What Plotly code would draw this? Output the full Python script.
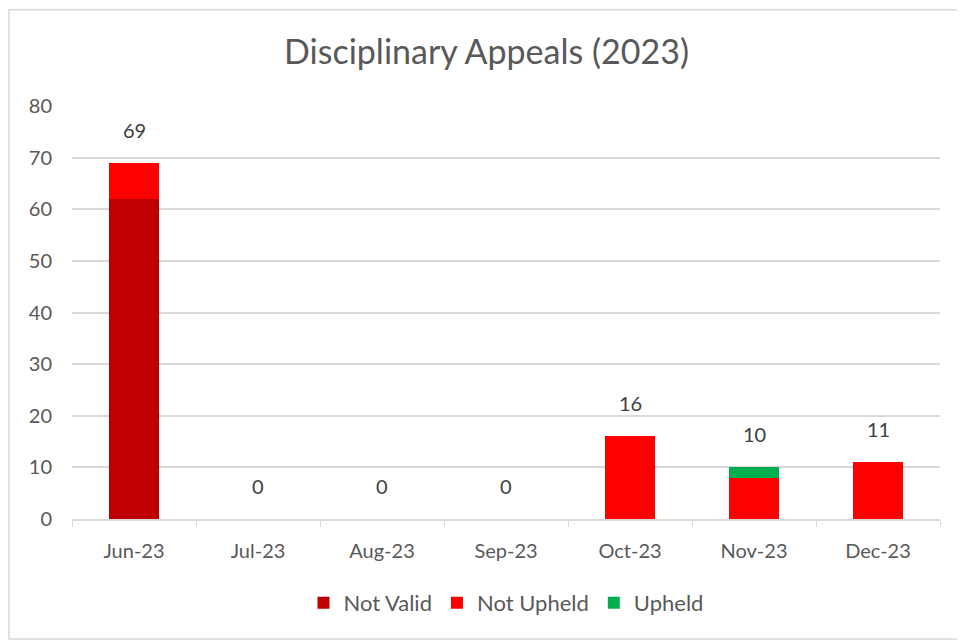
import plotly.graph_objects as go

months = ["Jun-23", "Jul-23", "Aug-23", "Sep-23", "Oct-23", "Nov-23", "Dec-23"]
not_valid = [62, 0, 0, 0, 0, 0, 0]
not_upheld = [7, 0, 0, 0, 16, 8, 11]
upheld = [0, 0, 0, 0, 0, 2, 0]
totals = [a + b + c for a, b, c in zip(not_valid, not_upheld, upheld)]

FONT = "Lato"
GREY = "#595959"

fig = go.Figure()
fig.add_bar(x=months, y=not_valid, name="Not Valid", marker=dict(color="#C00000", line=dict(width=0)))
fig.add_bar(x=months, y=not_upheld, name="Not Upheld", marker=dict(color="#FF0000", line=dict(width=0)))
fig.add_bar(x=months, y=upheld, name="Upheld", marker=dict(color="#00B050", line=dict(width=0)))

for m, t in zip(months, totals):
    fig.add_annotation(x=m, y=t, text=str(t), showarrow=False, yshift=33,
                       yanchor="middle", font=dict(family=FONT, size=20, color="#404040"))

fig.add_shape(type="rect", xref="paper", yref="paper", x0=-0.0726, x1=1.025, y0=-0.2906, y1=1.233,
              line=dict(color="#d9d9d9", width=1.5), fillcolor="rgba(0,0,0,0)", layer="below")

fig.update_layout(
    width=957, height=634,
    margin=dict(l=64, r=25, t=98, b=123),
    paper_bgcolor="white", plot_bgcolor="white",
    barmode="stack", bargap=0.6,
    title=dict(text="Disciplinary Appeals (2023)", x=0.5, xanchor="center", y=0.93, yanchor="middle",
               font=dict(family=FONT, size=34, color=GREY)),
    font=dict(family=FONT, color=GREY, size=20),
    showlegend=True,
    legend=dict(orientation="h", x=0.5, xanchor="center", y=-0.203, yanchor="middle",
                bgcolor="rgba(0,0,0,0)",
                font=dict(family=FONT, size=22, color=GREY), itemwidth=30, traceorder="normal"),
    xaxis=dict(showgrid=False, showline=True, linecolor="#d9d9d9", linewidth=1.5,
               ticks="outside", tickson="boundaries", ticklen=6, tickcolor="#d9d9d9",
               ticklabelstandoff=13,
               tickfont=dict(family=FONT, size=20, color=GREY)),
    yaxis=dict(range=[0, 80], dtick=10, showgrid=True, gridcolor="#d9d9d9", gridwidth=1.5,
               zeroline=False, showline=False, ticks="", ticklabelstandoff=19,
               tickfont=dict(family=FONT, size=20, color=GREY)),
)

fig.write_html("out.html")
